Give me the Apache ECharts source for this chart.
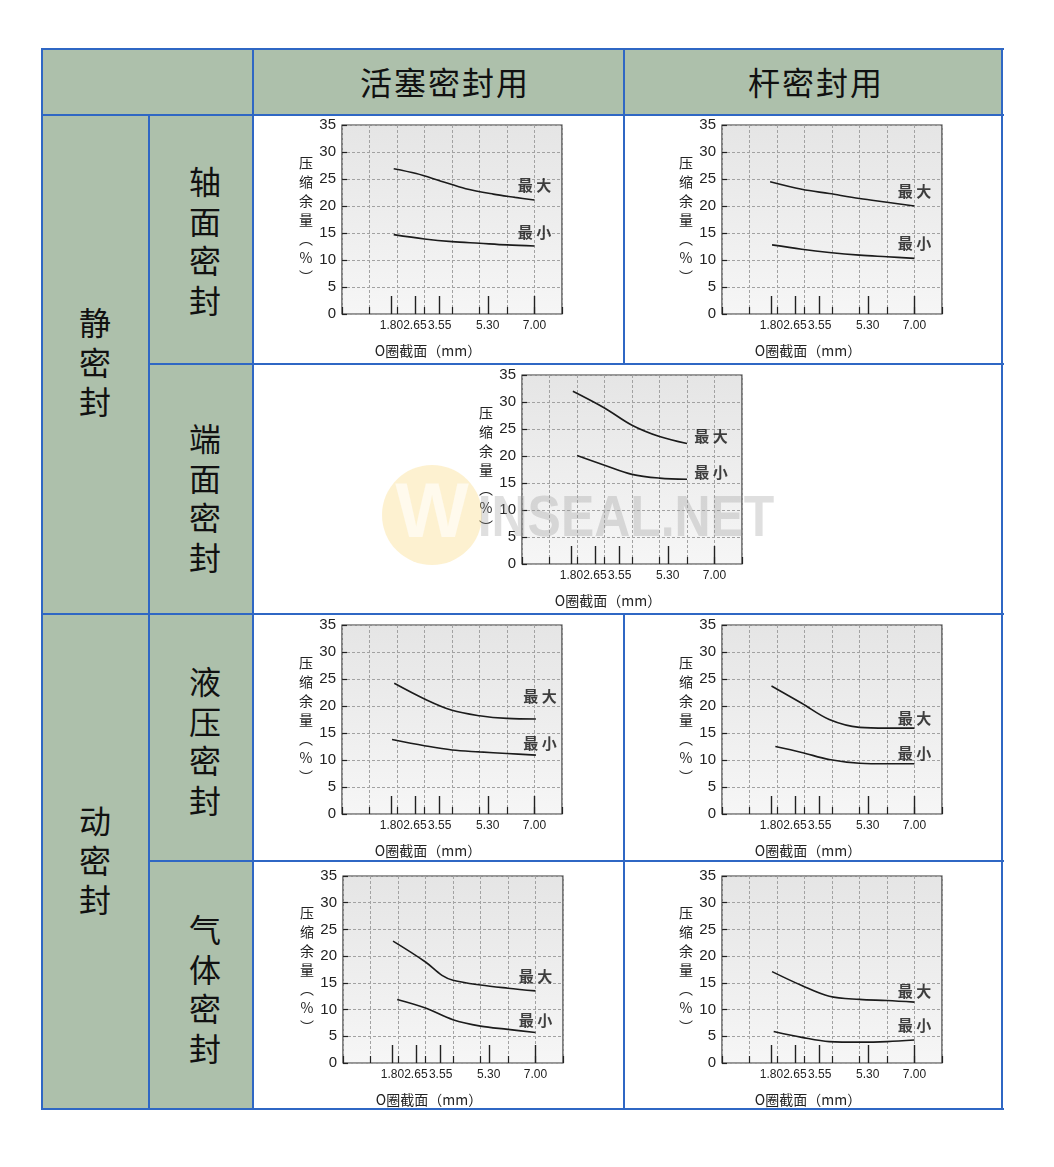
<!DOCTYPE html>
<html>
<head>
<meta charset="utf-8">
<script src="https://cdn.jsdelivr.net/npm/echarts@6/dist/echarts.min.js"></script>
<style>
html,body{margin:0;padding:0;background:#fff;}
#page{position:relative;width:1054px;height:1167px;overflow:hidden;font-family:"Noto Sans CJK SC","Noto Sans",sans-serif;}
.fill{position:absolute;background:#adc0ab;}
.h{position:absolute;background:#2f67c4;height:2px;}
.v{position:absolute;background:#2f67c4;width:2px;}
.t{position:absolute;transform:translate(-50%,-50%);font-size:32px;color:#111;text-align:center;white-space:nowrap;line-height:39.5px;}
#chart{position:absolute;left:0;top:0;width:1054px;height:1167px;}
</style>
</head>
<body>
<div id="page">
  <div class="fill" style="left:42px;top:49px;width:960px;height:66px;"></div>
  <div class="fill" style="left:42px;top:115px;width:211px;height:994px;"></div>

  <div class="h" style="left:41px;top:48px;width:963px;"></div>
  <div class="h" style="left:41px;top:114px;width:963px;"></div>
  <div class="h" style="left:148px;top:363px;width:856px;"></div>
  <div class="h" style="left:41px;top:613px;width:963px;"></div>
  <div class="h" style="left:148px;top:860px;width:856px;"></div>
  <div class="h" style="left:41px;top:1108px;width:963px;"></div>

  <div class="v" style="left:41px;top:48px;height:1062px;"></div>
  <div class="v" style="left:148px;top:114px;height:996px;"></div>
  <div class="v" style="left:252px;top:48px;height:1062px;"></div>
  <div class="v" style="left:623px;top:48px;height:317px;"></div>
  <div class="v" style="left:623px;top:613px;height:497px;"></div>
  <div class="v" style="left:1001px;top:48px;height:1062px;"></div>

  <div class="t" style="left:445px;top:82px;letter-spacing:2px;">活塞密封用</div>
  <div class="t" style="left:816px;top:82px;letter-spacing:2px;">杆密封用</div>
  <div class="t" style="left:95px;top:361px;">静<br>密<br>封</div>
  <div class="t" style="left:205px;top:240px;">轴<br>面<br>密<br>封</div>
  <div class="t" style="left:205px;top:497px;">端<br>面<br>密<br>封</div>
  <div class="t" style="left:95px;top:859px;">动<br>密<br>封</div>
  <div class="t" style="left:205px;top:740px;">液<br>压<br>密<br>封</div>
  <div class="t" style="left:205px;top:988px;">气<br>体<br>密<br>封</div>

  <div id="chart"></div>
</div>
<script>
// ---- data (x: O-ring cross section in mm, y: compression %) ----
const xTickValues = [1.80, 2.65, 3.55, 5.30, 7.00];
const yName = '压\n缩\n余\n量\n︵\n%\n︶';
const xName = 'O圈截面（mm）';
const seriesNames = ['最大', '最小'];

const pistonAxialMax = [[1.88,26.9],[2.7,26.0],[3.6,24.6],[4.5,23.2],[5.5,22.2],[6.3,21.6],[7.0,21.1]];
const pistonAxialMin = [[1.88,14.7],[3.0,13.9],[4.0,13.4],[5.0,13.1],[6.0,12.8],[7.0,12.6]];

const rodAxialMax = [[1.75,24.5],[2.9,23.1],[3.9,22.3],[5.0,21.4],[6.0,20.7],[7.0,20.0]];
const rodAxialMin = [[1.82,12.8],[2.9,12.0],[3.9,11.4],[5.0,10.9],[6.0,10.6],[7.0,10.3]];

const faceMax = [[1.85,32.0],[3.0,28.9],[4.0,25.7],[5.0,23.6],[6.0,22.3]];
const faceMin = [[2.0,20.1],[3.0,18.3],[4.0,16.6],[5.0,15.9],[6.0,15.7]];

const pistonHydMax = [[1.9,24.2],[3.0,21.3],[4.0,19.2],[5.0,18.2],[6.0,17.7],[7.05,17.6]];
const pistonHydMin = [[1.82,13.8],[3.0,12.65],[4.0,11.85],[5.0,11.5],[6.0,11.2],[7.05,10.9]];

const rodHydMax = [[1.8,23.7],[2.9,20.5],[3.9,17.5],[5.0,16.05],[6.0,15.9],[7.0,15.9]];
const rodHydMin = [[1.94,12.5],[2.9,11.4],[3.9,10.1],[5.0,9.4],[6.0,9.3],[7.0,9.3]];

const pistonGasMax = [[1.82,22.8],[3.0,18.9],[3.6,16.4],[4.0,15.5],[5.0,14.6],[6.0,14.0],[7.0,13.5]];
const pistonGasMin = [[1.97,11.9],[3.0,10.3],[4.0,8.1],[5.0,6.9],[6.0,6.3],[7.0,5.7]];

const rodGasMax = [[1.82,17.1],[2.9,14.5],[3.9,12.5],[5.0,11.9],[6.0,11.7],[7.0,11.4]];
const rodGasMin = [[1.88,5.9],[2.9,4.8],[3.9,4.0],[5.0,3.9],[6.0,4.0],[7.0,4.3]];

// ---- layout of the seven small charts (page pixels) and curve-label anchors (data units) ----
const charts = [
  {left:342, top:125, width:220, height:189, max:pistonAxialMax, min:pistonAxialMin, tagAt:[[7.0,23.8],[7.0,15.2]]},
  {left:722, top:125, width:220, height:189, max:rodAxialMax,    min:rodAxialMin,    tagAt:[[7.0,22.8],[7.0,13.1]]},
  {left:522, top:375, width:220, height:189, max:faceMax,        min:faceMin,        tagAt:[[6.87,23.6],[6.87,17.0]]},
  {left:342, top:625, width:220, height:189, max:pistonHydMax,   min:pistonHydMin,   tagAt:[[7.2,21.85],[7.2,13.1]]},
  {left:722, top:625, width:220, height:189, max:rodHydMax,      min:rodHydMin,      tagAt:[[7.0,17.7],[7.0,11.2]]},
  {left:343, top:876, width:220, height:187, max:pistonGasMax,   min:pistonGasMin,   tagAt:[[7.0,16.3],[7.0,7.9]]},
  {left:722, top:876, width:220, height:187, max:rodGasMax,      min:rodGasMin,      tagAt:[[7.0,13.4],[7.0,7.1]]}
];

const sans = '"Liberation Sans",Arial,sans-serif';
const cjk = '"Noto Sans CJK SC","Noto Sans",sans-serif';
const gridLine = {show:true, lineStyle:{color:'#a2a2a2', width:1, type:[3,2]}};
// tick values split over two label axes so neighbouring labels never collide
const tickSets = [xTickValues.filter((v, j) => j % 2 === 0), xTickValues.filter((v, j) => j % 2 === 1)];

const grid = [], xAxis = [], yAxis = [], series = [], graphic = [];
charts.forEach((c, i) => {
  grid.push({
    left:c.left, top:c.top, width:c.width, height:c.height, show:true,
    backgroundColor:{type:'linear', x:0, y:0, x2:0, y2:1,
      colorStops:[{offset:0, color:'#e5e5e5'}, {offset:1, color:'#f6f6f6'}]},
    borderColor:'#333', borderWidth:1.2
  });
  xAxis.push({
    gridIndex:i, type:'value', min:0, max:8, interval:1,
    axisLine:{show:false},
    axisTick:{show:true, inside:true, length:7, lineStyle:{color:'#222', width:1.2}},
    axisLabel:{show:false}, splitLine:gridLine
  });
  tickSets.forEach(vals => {
    xAxis.push({
      gridIndex:i, type:'value', position:'bottom', min:0, max:8,
      axisLine:{show:false},
      axisTick:{show:true, inside:true, length:18, customValues:vals, lineStyle:{color:'#222', width:1.4}},
      axisLabel:{show:true, customValues:vals, formatter:v => v.toFixed(2), hideOverlap:false,
        showMinLabel:true, showMaxLabel:true,
        fontSize:12, color:'#222', margin:6, fontFamily:sans},
      splitLine:{show:false}
    });
  });
  yAxis.push({
    gridIndex:i, type:'value', min:0, max:35, interval:5,
    axisLine:{show:false},
    axisTick:{show:true, inside:true, length:5, lineStyle:{color:'#222', width:1.2}},
    axisLabel:{fontSize:15, color:'#222', margin:6, fontFamily:sans},
    splitLine:gridLine
  });
  [c.max, c.min].forEach((d, k) => {
    series.push({
      type:'line', name:seriesNames[k], xAxisIndex:3*i, yAxisIndex:i, data:d,
      smooth:0.35, showSymbol:false, symbol:'none', silent:true,
      lineStyle:{color:'#1b1b1b', width:1.6}
    });
  });
  series.push({
    type:'scatter', xAxisIndex:3*i, yAxisIndex:i, silent:true, symbolSize:1,
    itemStyle:{color:'rgba(0,0,0,0)'},
    data:c.tagAt.map((p, k) => ({value:[p[0], p[1]], name:seriesNames[k]})),
    label:{show:true, position:'inside', formatter:p => p.name.split('').join(' '),
      fontSize:15, fontWeight:'bold', color:'#111', fontFamily:cjk}
  });
  graphic.push({
    type:'text', x:c.left - 36, y:c.top + c.height / 2, silent:true,
    style:{text:yName, fontSize:14, fontFamily:cjk, fill:'#222', align:'center', verticalAlign:'middle', lineHeight:19}
  });
  graphic.push({
    type:'text', x:c.left + 86, y:c.top + c.height + 37, silent:true,
    style:{text:xName, fontSize:14, fontFamily:cjk, fill:'#222', align:'center', verticalAlign:'middle'}
  });
});

// faint watermark
graphic.push({type:'circle', shape:{cx:432, cy:515, r:50}, silent:true, z:100,
  style:{fill:'rgba(248,210,100,0.30)'}});
graphic.push({type:'text', x:432, y:515, silent:true, z:101,
  style:{text:'W', fontSize:78, fontWeight:'bold', fontFamily:sans, fill:'rgba(255,255,255,0.6)', align:'center', verticalAlign:'middle'}});
graphic.push({type:'text', x:626, y:520, scaleX:0.86, silent:true, z:101,
  style:{text:'INSEAL.NET', fontSize:58, fontWeight:'bold', fontFamily:sans, fill:'rgba(150,150,150,0.30)', align:'center', verticalAlign:'middle'}});

const chart = echarts.init(document.getElementById('chart'), null, {renderer:'canvas'});
chart.setOption({
  backgroundColor:'transparent',
  animation:false,
  grid, xAxis, yAxis, series, graphic
});
</script>
</body>
</html>
